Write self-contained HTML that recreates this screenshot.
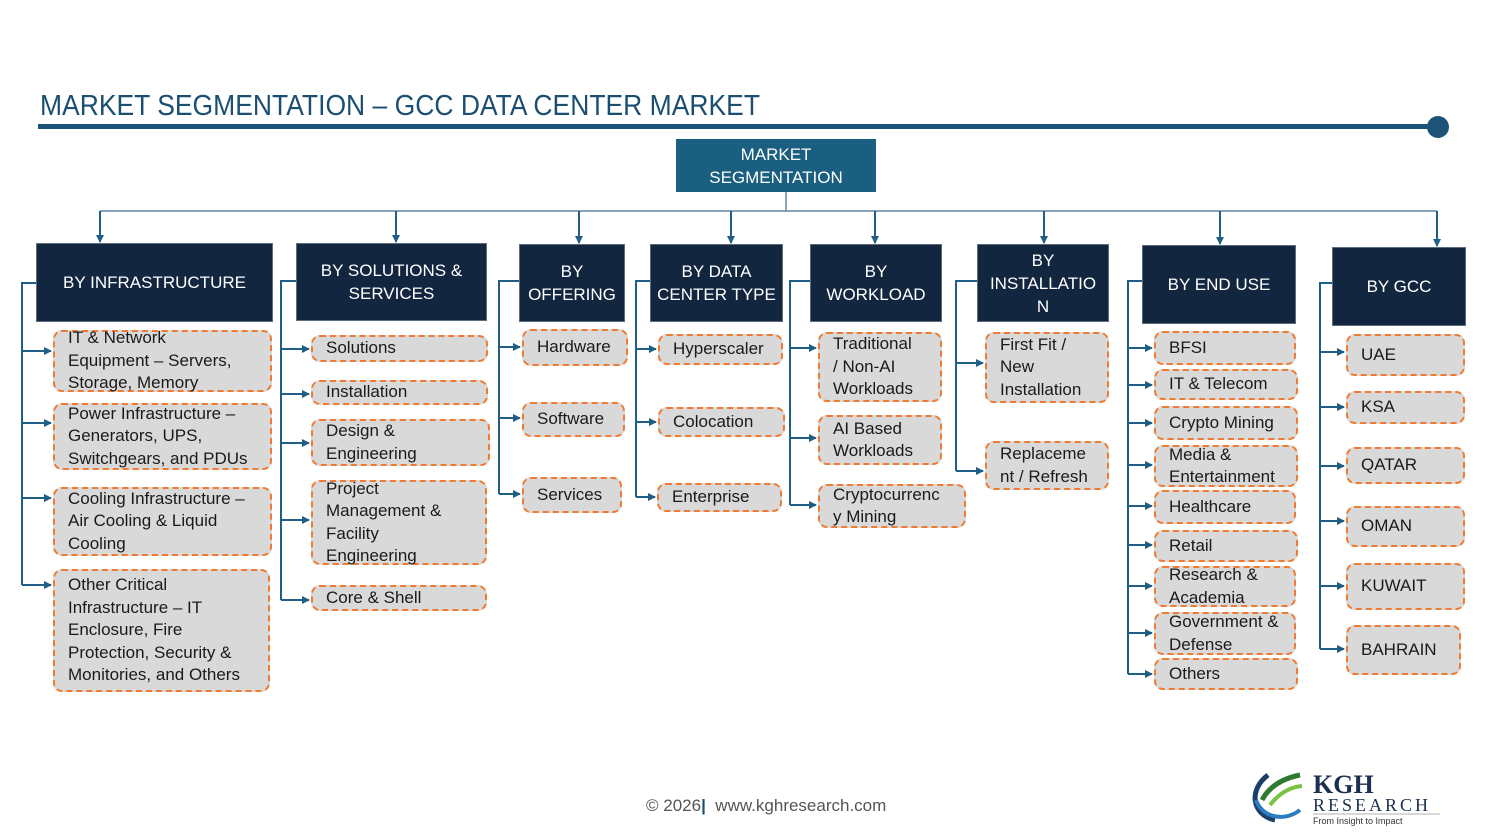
<!DOCTYPE html>
<html><head><meta charset="utf-8"><style>
body{margin:0;width:1500px;height:840px;background:#fff;position:relative;overflow:hidden;font-family:"Liberation Sans",sans-serif}
.h{position:absolute;background:#12263f;color:#fff;display:flex;align-items:center;justify-content:center;text-align:center;font-size:17px;line-height:23px;box-sizing:border-box;border:1px solid #5d6d7e}
.b{position:absolute;background:#d9d9d9;border:2px dashed #f07a30;border-radius:9px;box-sizing:border-box;display:flex;align-items:center;padding-left:13px;font-size:17px;line-height:22.5px;color:#1a1a1a}
svg{position:absolute;left:0;top:0}
</style></head><body>
<svg width="1500" height="840">
<defs><marker id="a" markerWidth="8" markerHeight="8" refX="7" refY="4" orient="auto" markerUnits="userSpaceOnUse"><path d="M0,0 L8,4 L0,8z" fill="#1f5f86"/></marker></defs>
<text x="40" y="115" font-family="Liberation Sans" font-size="29" fill="#1b4f72" textLength="720" lengthAdjust="spacingAndGlyphs">MARKET SEGMENTATION – GCC DATA CENTER MARKET</text>
<rect x="38" y="124" width="1400" height="5" fill="#1b5478"/>
<circle cx="1438" cy="127" r="11" fill="#1b5478"/>
<g stroke="#5f86a3" stroke-width="1.5" fill="none">
<path d="M786 192V211M100 211H1437"/>
</g>
<g stroke="#1f5f86" stroke-width="2" fill="none" marker-end="url(#a)">
<path d="M100 211V242"/><path d="M396 211V242"/><path d="M579 211V243"/><path d="M731 211V243"/><path d="M875 211V243"/><path d="M1044 211V243"/><path d="M1220 211V244"/><path d="M1437 211V246"/>
<path d="M22 351H51"/><path d="M22 423H51"/><path d="M22 498H51"/><path d="M22 585H51"/>
<path d="M281 349H309"/><path d="M281 394H309"/><path d="M281 443H309"/><path d="M281 520H309"/><path d="M281 600H309"/>
<path d="M499 347H520"/><path d="M499 418H520"/><path d="M499 494H520"/>
<path d="M636 349H656"/><path d="M636 422H656"/><path d="M636 497H655"/>
<path d="M790 348H816"/><path d="M790 438H816"/><path d="M790 505H816"/>
<path d="M956 363H983"/><path d="M956 471H983"/>
<path d="M1128 348H1152"/><path d="M1128 385H1152"/><path d="M1128 423H1152"/><path d="M1128 465H1152"/><path d="M1128 506H1152"/><path d="M1128 545H1152"/><path d="M1128 586H1152"/><path d="M1128 633H1152"/><path d="M1128 674H1152"/>
<path d="M1320 352H1344"/><path d="M1320 407H1344"/><path d="M1320 466H1344"/><path d="M1320 521H1344"/><path d="M1320 586H1344"/><path d="M1320 649H1344"/>
</g>
<g stroke="#1f5f86" stroke-width="2" fill="none">
<path d="M36 283H22V585M296 281H281V600M519 281H499V494M650 281H636V497M810 281H790V505M977 281H956V471M1142 281H1128V674M1332 283H1320V649"/>
</g>
</svg>
<div class="h" style="left:676px;top:139px;width:200px;height:53px;background:#1a5f80;border:none;font-size:17px;line-height:23px">MARKET<br>SEGMENTATION</div>
<div class="h" style="left:36px;top:243px;width:237px;height:79px">BY INFRASTRUCTURE</div>
<div class="h" style="left:296px;top:243px;width:191px;height:78px">BY SOLUTIONS &amp;<br>SERVICES</div>
<div class="h" style="left:519px;top:244px;width:106px;height:78px">BY<br>OFFERING</div>
<div class="h" style="left:650px;top:244px;width:133px;height:78px">BY DATA<br>CENTER TYPE</div>
<div class="h" style="left:810px;top:244px;width:132px;height:78px">BY<br>WORKLOAD</div>
<div class="h" style="left:977px;top:244px;width:132px;height:78px">BY<br>INSTALLATIO<br>N</div>
<div class="h" style="left:1142px;top:245px;width:154px;height:79px">BY END USE</div>
<div class="h" style="left:1332px;top:247px;width:134px;height:79px">BY GCC</div>

<div class="b" style="left:53px;top:330px;width:219px;height:62px">IT &amp; Network<br>Equipment – Servers,<br>Storage, Memory</div>
<div class="b" style="left:53px;top:403px;width:219px;height:67px">Power Infrastructure –<br>Generators, UPS,<br>Switchgears, and PDUs</div>
<div class="b" style="left:53px;top:487px;width:219px;height:69px">Cooling Infrastructure –<br>Air Cooling &amp; Liquid<br>Cooling</div>
<div class="b" style="left:53px;top:569px;width:217px;height:123px">Other Critical<br>Infrastructure – IT<br>Enclosure, Fire<br>Protection, Security &amp;<br>Monitories, and Others</div>

<div class="b" style="left:311px;top:335px;width:177px;height:27px">Solutions</div>
<div class="b" style="left:311px;top:380px;width:177px;height:25px">Installation</div>
<div class="b" style="left:311px;top:419px;width:179px;height:47px">Design &amp;<br>Engineering</div>
<div class="b" style="left:311px;top:480px;width:176px;height:85px">Project<br>Management &amp;<br>Facility<br>Engineering</div>
<div class="b" style="left:311px;top:585px;width:176px;height:26px">Core &amp; Shell</div>

<div class="b" style="left:522px;top:329px;width:106px;height:37px">Hardware</div>
<div class="b" style="left:522px;top:402px;width:103px;height:35px">Software</div>
<div class="b" style="left:522px;top:477px;width:100px;height:36px">Services</div>

<div class="b" style="left:658px;top:334px;width:125px;height:31px">Hyperscaler</div>
<div class="b" style="left:658px;top:407px;width:127px;height:30px">Colocation</div>
<div class="b" style="left:657px;top:483px;width:125px;height:29px">Enterprise</div>

<div class="b" style="left:818px;top:332px;width:124px;height:70px">Traditional<br>/ Non-AI<br>Workloads</div>
<div class="b" style="left:818px;top:415px;width:124px;height:50px">AI Based<br>Workloads</div>
<div class="b" style="left:818px;top:484px;width:148px;height:44px">Cryptocurrenc<br>y Mining</div>

<div class="b" style="left:985px;top:332px;width:124px;height:71px">First Fit /<br>New<br>Installation</div>
<div class="b" style="left:985px;top:441px;width:124px;height:49px">Replaceme<br>nt / Refresh</div>

<div class="b" style="left:1154px;top:331px;width:142px;height:34px">BFSI</div>
<div class="b" style="left:1154px;top:369px;width:144px;height:31px">IT &amp; Telecom</div>
<div class="b" style="left:1154px;top:406px;width:144px;height:34px">Crypto Mining</div>
<div class="b" style="left:1154px;top:445px;width:144px;height:42px">Media &amp;<br>Entertainment</div>
<div class="b" style="left:1154px;top:490px;width:142px;height:34px">Healthcare</div>
<div class="b" style="left:1154px;top:530px;width:144px;height:32px">Retail</div>
<div class="b" style="left:1154px;top:566px;width:142px;height:41px">Research &amp;<br>Academia</div>
<div class="b" style="left:1154px;top:612px;width:142px;height:43px">Government &amp;<br>Defense</div>
<div class="b" style="left:1154px;top:658px;width:144px;height:32px">Others</div>

<div class="b" style="left:1346px;top:334px;width:119px;height:42px">UAE</div>
<div class="b" style="left:1346px;top:391px;width:119px;height:33px">KSA</div>
<div class="b" style="left:1346px;top:447px;width:119px;height:37px">QATAR</div>
<div class="b" style="left:1346px;top:506px;width:119px;height:41px">OMAN</div>
<div class="b" style="left:1346px;top:563px;width:119px;height:47px">KUWAIT</div>
<div class="b" style="left:1346px;top:625px;width:115px;height:50px">BAHRAIN</div>

<div style="position:absolute;left:646px;top:796px;font-size:17px;color:#555">© 2026<span style="color:#1b4f72;font-weight:bold">|</span> &nbsp;www.kghresearch.com</div>

<svg width="1500" height="840" style="pointer-events:none">
<path d="M1268 775 C1248 790 1252 815 1275 820" stroke="#1b3f6b" stroke-width="5" fill="none"/>
<path d="M1256 800 C1262 818 1285 822 1300 810" stroke="#2b7bbf" stroke-width="4" fill="none"/>
<path d="M1262 800 C1270 785 1285 778 1300 775" stroke="#2f7a2f" stroke-width="5" fill="none"/>
<path d="M1270 805 C1280 792 1292 787 1302 786" stroke="#7cc242" stroke-width="4" fill="none"/>
<text x="1313" y="793" font-family="Liberation Serif" font-weight="bold" font-size="26" fill="#1b2f4f">KGH</text>
<text x="1313" y="811" font-family="Liberation Serif" font-size="18" fill="#1b2f4f" letter-spacing="3">RESEARCH</text>
<line x1="1313" y1="814" x2="1440" y2="814" stroke="#999" stroke-width="0.7"/>
<text x="1313" y="824" font-family="Liberation Sans" font-size="9" fill="#333">From Insight to Impact</text>
</svg>
</body></html>
